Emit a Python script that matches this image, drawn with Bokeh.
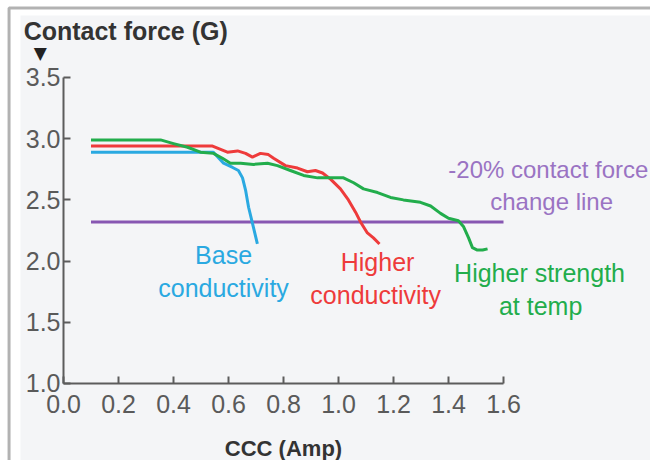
from bokeh.plotting import figure
from bokeh.models import Range1d, FixedTicker, Label, BoxAnnotation
from bokeh.embed import file_html
from bokeh.resources import INLINE

# ---- data ----
x_ticks = [0.0, 0.2, 0.4, 0.6, 0.8, 1.0, 1.2, 1.4, 1.6]
x_tick_labels = ["0.0", "0.2", "0.4", "0.6", "0.8", "1.0", "1.2", "1.4", "1.6"]
y_ticks = [1.0, 1.5, 2.0, 2.5, 3.0, 3.5]
y_tick_labels = ["1.0", "1.5", "2.0", "2.5", "3.0", "3.5"]

base_x = [0.10, 0.545, 0.582, 0.615, 0.636, 0.651, 0.662, 0.673, 0.687, 0.705]
base_y = [2.89, 2.89, 2.80, 2.765, 2.74, 2.68, 2.58, 2.44, 2.31, 2.14]

high_cond_x = [0.10, 0.542, 0.596, 0.633, 0.662, 0.687, 0.716, 0.745, 0.764, 0.807, 0.851,
               0.887, 0.916, 0.942, 0.971, 1.007, 1.036, 1.062, 1.080, 1.105, 1.127, 1.149]
high_cond_y = [2.94, 2.94, 2.89, 2.90, 2.88, 2.85, 2.88, 2.87, 2.84, 2.78, 2.76,
               2.73, 2.74, 2.72, 2.67, 2.59, 2.50, 2.40, 2.32, 2.23, 2.19, 2.14]

high_str_x = [0.10, 0.353, 0.400, 0.451, 0.498, 0.545, 0.578, 0.607, 0.644, 0.691, 0.742,
              0.778, 0.825, 0.873, 0.924, 0.971, 1.018, 1.055, 1.091, 1.142, 1.189, 1.236,
              1.298, 1.335, 1.371, 1.400, 1.436, 1.455, 1.473, 1.487, 1.505, 1.524, 1.542]
high_str_y = [2.99, 2.99, 2.96, 2.93, 2.89, 2.88, 2.84, 2.80, 2.80, 2.79, 2.80,
              2.78, 2.74, 2.70, 2.68, 2.68, 2.68, 2.64, 2.59, 2.56, 2.52, 2.50,
              2.48, 2.45, 2.39, 2.35, 2.33, 2.28, 2.19, 2.11, 2.09, 2.09, 2.10]

limit_x = [0.10, 1.60]
limit_y = [2.32, 2.32]

# ---- styles ----
BG = "#f4f5f7"
BLUE = "#2aa9e1"
RED = "#ee3b3b"
GREEN = "#22ad4c"
PURPLE = "#8757b2"
PURPLE_TXT = "#9a73c3"
AXIS = "#5c5c5c"
FONT = "Liberation Sans"

p = figure(width=650, height=460, output_backend="svg", toolbar_location=None,
           x_range=Range1d(-0.2291, 2.1345), y_range=Range1d(0.3709, 4.129))
p.min_border = 0
p.border_fill_color = "white"
p.background_fill_color = "white"
p.outline_line_color = None
p.grid.visible = False

# panel background and frame line
p.add_layout(BoxAnnotation(left=-0.1564, right=3.0, top=4.0065, bottom=-1.0,
                           fill_color=BG, fill_alpha=1.0, line_color=None, level="underlay"))
p.add_layout(BoxAnnotation(left=-0.198, right=3.0, top=4.068, bottom=-1.0,
                           fill_color=None, fill_alpha=0, line_color="black", line_width=3,
                           level="overlay"))

for ax, ticks, labels, loc, bnds in ((p.xaxis[0], x_ticks, x_tick_labels, 1.0, (0.0, 1.6)),
                                     (p.yaxis[0], y_ticks, y_tick_labels, 0.0, (1.0, 3.5))):
    ax.fixed_location = loc
    ax.bounds = bnds
    ax.ticker = FixedTicker(ticks=ticks)
    ax.major_label_overrides = {t: l for t, l in zip(ticks, labels)}
    ax.axis_line_color = AXIS
    ax.axis_line_width = 2
    ax.major_tick_line_color = AXIS
    ax.major_tick_line_width = 2
    ax.major_tick_in = 7
    ax.major_tick_out = 0
    ax.minor_tick_line_color = None
    ax.major_label_text_font = FONT
    ax.major_label_text_font_size = "25px"
    ax.major_label_text_color = "#5a5a5a"
p.xaxis.major_label_standoff = 12
p.yaxis.major_label_standoff = 3

p.line(limit_x, limit_y, line_color=PURPLE, line_width=3)
p.line(base_x, base_y, line_color=BLUE, line_width=3, line_join="round")
p.line(high_cond_x, high_cond_y, line_color=RED, line_width=3, line_join="round")
p.line(high_str_x, high_str_y, line_color=GREEN, line_width=3, line_join="round")

def lab(x, y, text, color, size="25px", bold=False, align="center", font=FONT):
    p.add_layout(Label(x=x, y=y, text=text, text_color=color, text_font=font,
                       text_font_size=size, text_font_style="bold" if bold else "normal",
                       text_align=align, text_baseline="middle"))

lab(-0.145, 3.876, "Contact force (G)", "#333333", size="25px", bold=True, align="left")
lab(-0.084, 3.70, "▼", "#222222", size="17px", font="DejaVu Sans")
lab(0.80, 0.465, "CCC (Amp)", "#333333", size="22px", bold=True)

lab(0.582, 2.046, "Base", BLUE)
lab(0.582, 1.784, "conductivity", BLUE)
lab(1.142, 1.989, "Higher", RED)
lab(1.135, 1.719, "conductivity", RED)
lab(1.731, 1.899, "Higher strength", GREEN)
lab(1.735, 1.637, "at temp", GREEN)
lab(1.763, 2.748, "-20% contact force", PURPLE_TXT, size="24px")
lab(1.775, 2.487, "change line", PURPLE_TXT, size="24px")

open("out.html", "w").write(file_html(p, INLINE))
